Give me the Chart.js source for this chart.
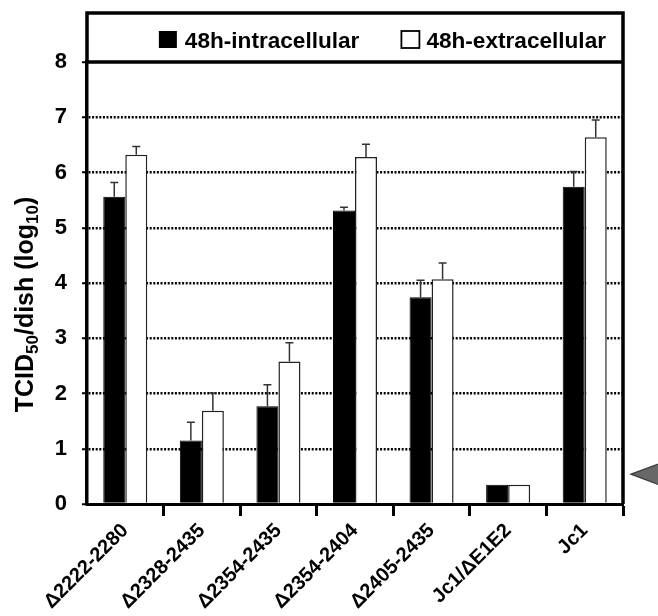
<!DOCTYPE html>
<html>
<head>
<meta charset="utf-8">
<script src="https://cdn.jsdelivr.net/npm/chart.js@4.4.1/dist/chart.umd.min.js"></script>
<style>
html,body{margin:0;padding:0;background:#fff;}
#wrap{width:658px;height:616px;position:relative;}
</style>
</head>
<body>
<div id="wrap"><canvas id="c" width="658" height="616"></canvas></div>
<script>
// ---- data ----
const categories = ['Δ2222-2280', 'Δ2328-2435', 'Δ2354-2435', 'Δ2354-2404', 'Δ2405-2435', 'Jc1/ΔE1E2', 'Jc1'];
const seriesNames = ['48h-intracellular', '48h-extracellular'];
const intracellular = [5.56, 1.15, 1.77, 5.31, 3.74, 0.35, 5.74];
const intracellularErr = [0.26, 0.33, 0.39, 0.06, 0.31, 0, 0.28];
const extracellular = [6.32, 1.69, 2.58, 6.28, 4.07, 0.35, 6.64];
const extracellularErr = [0.15, 0.32, 0.34, 0.23, 0.29, 0, 0.31];
const yTickLabels = ['0', '1', '2', '3', '4', '5', '6', '7', '8'];
const yTitleParts = [['TCID', false], ['50', true], ['/dish (log', false], ['10', true], [')', false]];
const arrowMarkValue = 0.54;

const FAMILY = '"Liberation Sans", Arial, Helvetica, sans-serif';

const decorPlugin = {
  id: 'decor',
  afterDatasetsDraw(chart) {
    const ctx = chart.ctx;
    const ys = chart.scales.y;
    [intracellularErr, extracellularErr].forEach((errs, di) => {
      const meta = chart.getDatasetMeta(di);
      meta.data.forEach((bar, i) => {
        const e = errs[i];
        if (!e) return;
        const v = chart.data.datasets[di].data[i];
        const yTop = ys.getPixelForValue(v + e);
        ctx.save();
        ctx.strokeStyle = '#333';
        ctx.lineWidth = 1.5;
        ctx.beginPath();
        ctx.moveTo(bar.x, bar.y);
        ctx.lineTo(bar.x, yTop);
        ctx.moveTo(bar.x - 4, yTop);
        ctx.lineTo(bar.x + 4, yTop);
        ctx.stroke();
        ctx.restore();
      });
    });
  },
  afterDraw(chart) {
    const ctx = chart.ctx;
    const ca = chart.chartArea;
    const ys = chart.scales.y;
    const boxTop = 13;
    ctx.save();
    // frame
    ctx.strokeStyle = '#000';
    ctx.lineWidth = 3.5;
    ctx.beginPath();
    ctx.moveTo(ca.left, ca.top);
    ctx.lineTo(ca.left, boxTop);
    ctx.lineTo(ca.right, boxTop);
    ctx.lineTo(ca.right, ca.bottom);
    ctx.moveTo(ca.left, ca.top);
    ctx.lineTo(ca.right, ca.top);
    ctx.stroke();

    // legend
    ctx.font = 'bold 22.6px ' + FAMILY;
    ctx.textBaseline = 'alphabetic';
    ctx.textAlign = 'left';
    const w1 = ctx.measureText(seriesNames[0]).width;
    const w2 = ctx.measureText(seriesNames[1]).width;
    const baseY = 48;
    const text2 = ca.right - 17 - w2;
    const box2 = text2 - 7 - 18;
    const text1 = box2 - 42 - w1;
    const box1 = text1 - 8 - 18;
    ctx.fillStyle = '#000';
    ctx.fillRect(box1, 31, 18, 17);
    ctx.fillText(seriesNames[0], text1, baseY);
    ctx.fillStyle = '#fff';
    ctx.fillRect(box2, 31, 18, 17);
    ctx.strokeStyle = '#000';
    ctx.lineWidth = 1.8;
    ctx.strokeRect(box2, 31, 18, 17);
    ctx.fillStyle = '#000';
    ctx.fillText(seriesNames[1], text2, baseY);

    // y title with subscripts
    const big = 'bold 25px ' + FAMILY;
    const small = 'bold 17px ' + FAMILY;
    let total = 0;
    yTitleParts.forEach(([t, sub]) => { ctx.font = sub ? small : big; total += ctx.measureText(t).width; });
    ctx.translate(33, 304.5);
    ctx.rotate(-Math.PI / 2);
    let x = -total / 2;
    yTitleParts.forEach(([t, sub]) => {
      ctx.font = sub ? small : big;
      ctx.fillText(t, x, sub ? 5 : 0);
      x += ctx.measureText(t).width;
    });
    ctx.setTransform(1, 0, 0, 1, 0, 0);

    // arrow mark
    const yA = ys.getPixelForValue(arrowMarkValue);
    const tipX = ca.right + 8;
    ctx.beginPath();
    ctx.moveTo(tipX, yA);
    ctx.lineTo(tipX + 32, yA - 12);
    ctx.lineTo(tipX + 32, yA + 12);
    ctx.closePath();
    ctx.fillStyle = '#686868';
    ctx.fill();
    ctx.strokeStyle = '#3a3a3a';
    ctx.lineWidth = 1.2;
    ctx.stroke();
    ctx.restore();
  }
};

new Chart(document.getElementById('c'), {
  type: 'bar',
  data: {
    labels: categories,
    datasets: [
      {
        label: seriesNames[0],
        data: intracellular,
        backgroundColor: '#000',
        borderColor: '#000',
        borderWidth: 1
      },
      {
        label: seriesNames[1],
        data: extracellular,
        backgroundColor: '#fff',
        borderColor: '#222',
        borderWidth: 1.5
      }
    ]
  },
  options: {
    responsive: false,
    animation: false,
    devicePixelRatio: 1,
    categoryPercentage: 0.575,
    barPercentage: 1,
    layout: { padding: { top: 62, right: 35, bottom: 0, left: 0 } },
    plugins: {
      legend: { display: false },
      tooltip: { enabled: false },
      title: { display: false }
    },
    scales: {
      x: {
        offset: true,
        grid: {
          offset: true,
          drawOnChartArea: false,
          drawTicks: true,
          tickLength: 12,
          tickWidth: 3,
          tickColor: (c) => (c.index === 0 ? 'rgba(0,0,0,0)' : '#000')
        },
        border: { display: true, color: '#000', width: 3 },
        ticks: {
          color: '#000',
          font: { family: FAMILY, size: 20, weight: 'bold' },
          minRotation: 45,
          maxRotation: 45,
          autoSkip: false,
          padding: 3
        },
        afterFit: (s) => { s.height = 112; }
      },
      y: {
        min: 0,
        max: 8,
        grid: {
          color: (c) => (c.tick && (c.tick.value === 0 || c.tick.value === 8)) ? 'rgba(0,0,0,0)' : '#000',
          lineWidth: 2.5,
          drawTicks: true,
          tickLength: 5,
          tickWidth: 2,
          tickColor: '#000'
        },
        border: { display: true, color: '#000', width: 3.5, dash: [2, 1.6] },
        ticks: {
          stepSize: 1,
          color: '#000',
          padding: 15,
          font: { family: FAMILY, size: 22, weight: 'bold' },
          callback: (v) => yTickLabels[v]
        },
        afterFit: (s) => { s.width = 87; }
      }
    }
  },
  plugins: [decorPlugin]
});
</script>
</body>
</html>
